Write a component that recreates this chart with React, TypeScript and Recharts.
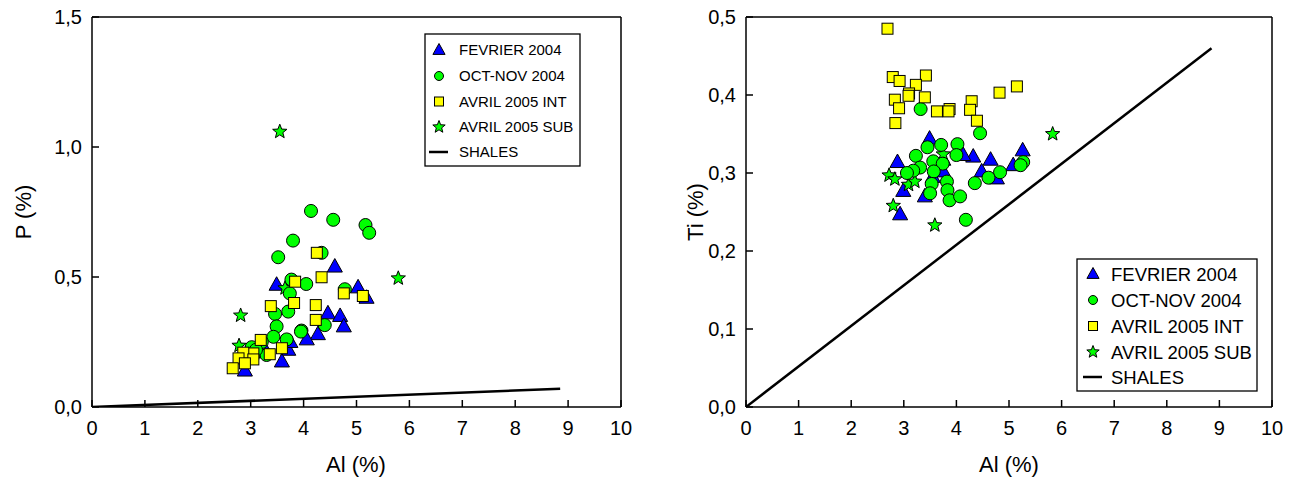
import React from 'react';
import { ScatterChart, Scatter, XAxis, YAxis } from 'recharts';

const FONT = '"Liberation Sans", Arial, Helvetica, sans-serif';

// ---- tick labels ----
const X_TICKS = [0, 1, 2, 3, 4, 5, 6, 7, 8, 9, 10];
const P_TICKS = [0, 0.5, 1.0, 1.5];
const TI_TICKS = [0, 0.1, 0.2, 0.3, 0.4, 0.5];

// ---- series names ----
const SERIES = ['FEVRIER 2004', 'OCT-NOV 2004', 'AVRIL 2005 INT', 'AVRIL 2005 SUB', 'SHALES'];

// ---- left chart: P (%) vs Al (%) ----
const fevrierP: [number, number][] = [
  [3.49, 0.47], [4.59, 0.54], [5.03, 0.46], [5.19, 0.42], [4.46, 0.36], [4.69, 0.35],
  [4.76, 0.31], [4.27, 0.28], [4.06, 0.26], [3.71, 0.22], [3.59, 0.175], [2.89, 0.14],
  [3.75, 0.25], [3.3, 0.21],
];
const octNovP: [number, number][] = [
  [4.14, 0.754], [4.56, 0.72], [5.17, 0.70], [5.24, 0.67], [3.8, 0.64], [3.52, 0.576],
  [4.34, 0.593], [3.77, 0.49], [4.05, 0.473], [4.78, 0.453], [3.74, 0.437], [3.71, 0.367],
  [3.46, 0.358], [3.49, 0.31], [4.4, 0.315], [3.96, 0.294], [3.43, 0.27], [3.68, 0.26],
  [3.21, 0.25], [3.02, 0.23], [3.3, 0.2], [3.95, 0.29], [3.1, 0.22],
];
const avrilIntP: [number, number][] = [
  [4.25, 0.593], [4.34, 0.499], [3.84, 0.482], [4.76, 0.437], [5.12, 0.427], [3.82, 0.40],
  [3.38, 0.388], [4.23, 0.392], [4.23, 0.335], [3.19, 0.258], [3.59, 0.226], [3.36, 0.203],
  [3.05, 0.206], [2.86, 0.209], [2.77, 0.187], [3.05, 0.183], [2.89, 0.168], [2.66, 0.149],
];
const avrilSubP: [number, number][] = [
  [3.55, 1.059], [5.79, 0.495], [2.81, 0.352], [2.78, 0.236], [3.65, 0.457],
];
const shalesP: [number, number][] = [[0, 0], [8.85, 0.07]];

// ---- right chart: Ti (%) vs Al (%) ----
const fevrierTi: [number, number][] = [
  [3.49, 0.344], [2.88, 0.314], [4.32, 0.321], [4.13, 0.323], [4.65, 0.317], [5.26, 0.329],
  [5.08, 0.31], [4.48, 0.302], [4.77, 0.293], [3.75, 0.302], [3.55, 0.295], [2.99, 0.277],
  [3.4, 0.27], [2.93, 0.247], [3.75, 0.317],
];
const octNovTi: [number, number][] = [
  [3.32, 0.382], [4.45, 0.351], [3.45, 0.333], [3.71, 0.336], [4.02, 0.337], [4.0, 0.323],
  [3.23, 0.322], [3.56, 0.315], [3.74, 0.312], [3.31, 0.307], [3.18, 0.303], [3.06, 0.30],
  [3.57, 0.302], [5.27, 0.314], [5.22, 0.31], [4.83, 0.301], [4.61, 0.294], [4.35, 0.287],
  [3.82, 0.289], [3.53, 0.286], [3.83, 0.278], [3.87, 0.265], [3.5, 0.274], [4.07, 0.27],
  [4.18, 0.24],
];
const avrilIntTi: [number, number][] = [
  [2.69, 0.485], [2.79, 0.423], [2.92, 0.418], [3.42, 0.425], [3.23, 0.413], [3.10, 0.402],
  [3.09, 0.399], [3.40, 0.397], [2.83, 0.394], [2.91, 0.383], [3.63, 0.379], [3.87, 0.382],
  [3.85, 0.379], [4.29, 0.392], [4.26, 0.381], [4.39, 0.367], [4.82, 0.403], [5.15, 0.411],
  [2.84, 0.364],
];
const avrilSubTi: [number, number][] = [
  [2.72, 0.297], [2.83, 0.292], [3.09, 0.285], [3.21, 0.289], [2.8, 0.258], [3.59, 0.233],
  [3.75, 0.324], [5.83, 0.35],
];
const shalesTi: [number, number][] = [[0, 0], [8.85, 0.46]];

const toXY = (arr: [number, number][]) => arr.map(([x, y]) => ({ x, y }));
const fmt1 = (v: number) => v.toFixed(1).replace('.', ',');

// ---- marker shapes ----
const BLUE = '#0000ff';
const GREEN = '#00ff00';
const YELLOW = '#ffff00';
const TICK_FS = 20;
const TITLE_FS = 22;

function triPath(cx: number, cy: number, s: number) {
  return `${cx},${cy - s * 0.62} ${cx + s * 0.58},${cy + s * 0.42} ${cx - s * 0.58},${cy + s * 0.42}`;
}
function starPath(cx: number, cy: number, ro: number, ri: number) {
  const pts: string[] = [];
  for (let i = 0; i < 10; i++) {
    const r = i % 2 === 0 ? ro : ri;
    const a = -Math.PI / 2 + (i * Math.PI) / 5;
    pts.push(`${cx + r * Math.cos(a)},${cy + r * Math.sin(a)}`);
  }
  return pts.join(' ');
}

const TriShape = (p: any) => (
  <polygon points={triPath(p.cx, p.cy, 13)} fill={BLUE} stroke="#000" strokeWidth={1} />
);
const CircShape = (p: any) => (
  <circle cx={p.cx} cy={p.cy} r={6.5} fill={GREEN} stroke="#000" strokeWidth={1} />
);
const SqShape = (p: any) => (
  <rect x={p.cx - 5.5} y={p.cy - 5.5} width={11} height={11} fill={YELLOW} stroke="#000" strokeWidth={1} />
);
const StarShape = (p: any) => (
  <polygon points={starPath(p.cx, p.cy, 7.5, 3.2)} fill={GREEN} stroke="#000" strokeWidth={1} />
);
const NoShape = () => <g />;

const XTick = (p: any) => (
  <text x={p.x} y={p.y} dy={TICK_FS * 0.72} textAnchor="middle" fontSize={TICK_FS} fontFamily={FONT} fill="#000">
    {String(p.payload.value)}
  </text>
);
const YTick = (p: any) => (
  <text x={p.x} y={p.y} dy={TICK_FS * 0.36} textAnchor="end" fontSize={TICK_FS} fontFamily={FONT} fill="#000">
    {fmt1(p.payload.value)}
  </text>
);

const axisStroke = { stroke: '#000', strokeWidth: 1.5 };

function axes(yTicks: number[], yMax: number, yWidth: number) {
  return [
    <XAxis key="xb" xAxisId={0} type="number" dataKey="x" domain={[0, 10]} ticks={X_TICKS} interval={0}
      allowDataOverflow tickSize={-7} tickMargin={21} height={60} axisLine={axisStroke} tickLine={axisStroke}
      tick={XTick} />,
    <XAxis key="xt" xAxisId="top" orientation="top" type="number" domain={[0, 10]} ticks={X_TICKS} interval={0}
      allowDataOverflow tickSize={-7} height={1} tick={false} axisLine={axisStroke} tickLine={axisStroke} />,
    <YAxis key="yl" yAxisId={0} type="number" dataKey="y" domain={[0, yMax]} ticks={yTicks} interval={0}
      allowDataOverflow tickSize={-7} tickMargin={17} width={yWidth}
      axisLine={axisStroke} tickLine={axisStroke} tick={YTick} />,
    <YAxis key="yr" yAxisId="right" orientation="right" type="number" domain={[0, yMax]} ticks={yTicks} interval={0}
      allowDataOverflow tickSize={-7} width={1} tick={false} axisLine={axisStroke} tickLine={axisStroke} />,
  ];
}

function series(tri: any, circ: any, sq: any, star: any, shales: any) {
  return [
    <Scatter key="sh" name={SERIES[4]} data={toXY(shales)} line={{ stroke: '#000', strokeWidth: 2.5 }}
      shape={NoShape} isAnimationActive={false} />,
    <Scatter key="tri" name={SERIES[0]} data={toXY(tri)} shape={TriShape} isAnimationActive={false} />,
    <Scatter key="star" name={SERIES[3]} data={toXY(star)} shape={StarShape} isAnimationActive={false} />,
    <Scatter key="circ" name={SERIES[1]} data={toXY(circ)} shape={CircShape} isAnimationActive={false} />,
    <Scatter key="sq" name={SERIES[2]} data={toXY(sq)} shape={SqShape} isAnimationActive={false} />,
  ];
}

function LegendBox(props: { x: number; y: number; w: number; h: number; fs: number; iconX: number; textX: number; rows: number[] }) {
  const { x, y, w, h, fs, iconX, textX, rows } = props;
  const base = fs * 0.36;
  return (
    <g>
      <rect x={x} y={y} width={w} height={h} fill="#fff" stroke="#000" strokeWidth={1.3} />
      <polygon points={triPath(iconX, rows[0], 10.5)} fill={BLUE} stroke="#000" strokeWidth={1} />
      <circle cx={iconX} cy={rows[1]} r={4.5} fill={GREEN} stroke="#000" strokeWidth={1} />
      <rect x={iconX - 4.5} y={rows[2] - 4.5} width={9} height={9} fill={YELLOW} stroke="#000" strokeWidth={1} />
      <polygon points={starPath(iconX, rows[3], 6.5, 2.8)} fill={GREEN} stroke="#000" strokeWidth={1} />
      <line x1={iconX - 10} x2={iconX + 9} y1={rows[4]} y2={rows[4]} stroke="#000" strokeWidth={2.5} />
      {SERIES.map((s, i) => (
        <text key={s} x={textX} y={rows[i] + base} fontSize={fs} fontFamily={FONT} fill="#000">{s}</text>
      ))}
    </g>
  );
}

export default function App() {
  return (
    <div style={{ position: 'absolute', left: 0, top: 0, width: 1300, height: 482, background: '#fff', fontFamily: FONT }}>
      <div style={{ position: 'absolute', left: 0, top: 0 }}>
        <ScatterChart width={650} height={482} margin={{ top: 16, right: 28, bottom: 15, left: 0 }}>
          {axes(P_TICKS, 1.5, 92)}
          {series(fevrierP, octNovP, avrilIntP, avrilSubP, shalesP)}
        </ScatterChart>
      </div>
      <div style={{ position: 'absolute', left: 650, top: 0 }}>
        <ScatterChart width={650} height={482} margin={{ top: 16, right: 27, bottom: 15, left: 0 }}>
          {axes(TI_TICKS, 0.5, 96)}
          {series(fevrierTi, octNovTi, avrilIntTi, avrilSubTi, shalesTi)}
        </ScatterChart>
      </div>
      <svg width={1300} height={482} style={{ position: 'absolute', left: 0, top: 0, pointerEvents: 'none' }}>
        <text x={356} y={472} textAnchor="middle" fontSize={TITLE_FS} fontFamily={FONT} fill="#000">Al (%)</text>
        <text x={1009} y={472} textAnchor="middle" fontSize={TITLE_FS} fontFamily={FONT} fill="#000">Al (%)</text>
        <text x={0} y={0} transform="translate(31,212) rotate(-90)" textAnchor="middle" fontSize={TITLE_FS} fontFamily={FONT} fill="#000">P (%)</text>
        <text x={0} y={0} transform="translate(703,212) rotate(-90)" textAnchor="middle" fontSize={TITLE_FS} fontFamily={FONT} fill="#000">Ti (%)</text>
        <LegendBox x={425} y={34} w={155} h={132} fs={15} iconX={439} textX={459} rows={[50, 76, 101.5, 127, 152]} />
        <LegendBox x={1077} y={259} w={180} h={132} fs={18.5} iconX={1093} textX={1111} rows={[274, 300, 326, 352, 377]} />
      </svg>
    </div>
  );
}
